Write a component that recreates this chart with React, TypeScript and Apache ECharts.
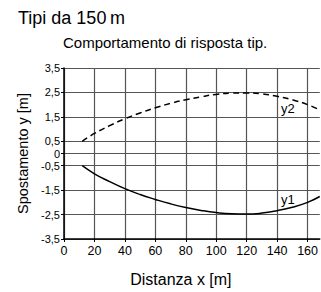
import React, { useEffect, useRef } from "react";
import * as echarts from "echarts";

const xValues = [12, 20, 30, 40, 50, 60, 70, 80, 90, 100, 110, 120, 130, 140, 150, 160, 168];
const y1Values = [-0.5, -0.83, -1.15, -1.44, -1.68, -1.88, -2.06, -2.21, -2.33, -2.42, -2.47, -2.48, -2.44, -2.34, -2.2, -2.0, -1.76];
const y2Values = [0.5, 0.82, 1.14, 1.42, 1.66, 1.87, 2.05, 2.2, 2.32, 2.42, 2.47, 2.48, 2.44, 2.34, 2.2, 2.0, 1.78];
const xTicks = [0, 20, 40, 60, 80, 100, 120, 140, 160];
const yTicks = [-3.5, -2.5, -1.5, -0.5, 0, 0.5, 1.5, 2.5, 3.5];
const y1LabelPos = [147, -1.9];
const y2LabelPos = [147, 1.83];

const FONT = "'Liberation Sans', Arial, sans-serif";

export default function App() {
  const ref = useRef<HTMLDivElement>(null);
  useEffect(() => {
    document.body.style.margin = "0";
    const chart = echarts.init(ref.current!, null, { renderer: "svg" });
    const gridLine = { show: true, lineStyle: { color: "#555", width: 1.2 } };
    chart.setOption({
      animation: false,
      backgroundColor: "#fff",
      textStyle: { fontFamily: FONT },
      title: [
        {
          text: "Tipi da 150\u2009m",
          left: 18,
          top: 9,
          padding: 0,
          textStyle: { fontFamily: FONT, fontSize: 18, fontWeight: "normal", color: "#000" },
        },
        {
          text: "Comportamento di risposta tip.",
          left: 63,
          top: 35,
          padding: 0,
          textStyle: { fontFamily: FONT, fontSize: 15, fontWeight: "normal", color: "#000" },
        },
      ],
      grid: { left: 64, top: 68, right: 0, bottom: 35, containLabel: false },
      xAxis: {
        type: "value",
        min: 0,
        max: 168,
        name: "Distanza x [m]",
        nameLocation: "middle",
        nameGap: 32,
        nameTextStyle: { fontFamily: FONT, fontSize: 16, color: "#000", verticalAlign: "top", padding: [0, 22, 0, 0] },
        axisLine: { show: true, onZero: false, lineStyle: { color: "#000", width: 1.5 } },
        axisTick: { show: true, length: 3, customValues: xTicks, lineStyle: { color: "#000" } },
        axisLabel: { customValues: xTicks, fontFamily: FONT, fontSize: 12.5, color: "#000", margin: 5 },
        splitLine: gridLine,
      },
      yAxis: {
        type: "value",
        min: -3.5,
        max: 3.5,
        name: "Spostamento y [m]",
        nameLocation: "middle",
        nameGap: 27,
        nameTextStyle: { fontFamily: FONT, fontSize: 14.5, color: "#000" },
        axisLine: { show: true, onZero: false, lineStyle: { color: "#000", width: 1.5 } },
        axisTick: { show: true, length: 3, customValues: yTicks, lineStyle: { color: "#000" } },
        axisLabel: {
          customValues: yTicks,
          fontFamily: FONT,
          fontSize: 11,
          lineHeight: 11,
          color: "#000",
          margin: 4,
          formatter: (v: number) => String(v).replace(".", ","),
        },
        splitLine: gridLine,
      },
      series: [
        {
          name: "y1",
          type: "line",
          data: xValues.map((x, i) => [x, y1Values[i]]),
          showSymbol: false,
          smooth: true,
          lineStyle: { color: "#000", width: 1.5, type: "solid" },
          markPoint: {
            symbol: "circle",
            symbolSize: 0,
            label: { show: true, position: "inside", formatter: "y1", fontFamily: FONT, fontSize: 13, color: "#000" },
            data: [{ coord: y1LabelPos }],
          },
        },
        {
          name: "y2",
          type: "line",
          data: xValues.map((x, i) => [x, y2Values[i]]),
          showSymbol: false,
          smooth: true,
          lineStyle: { color: "#000", width: 1.5, type: [6, 4] },
          markPoint: {
            symbol: "circle",
            symbolSize: 0,
            label: { show: true, position: "inside", formatter: "y2", fontFamily: FONT, fontSize: 13, color: "#000" },
            data: [{ coord: y2LabelPos }],
          },
        },
      ],
    });
    return () => chart.dispose();
  }, []);
  return <div ref={ref} style={{ width: 321, height: 292 }} />;
}
